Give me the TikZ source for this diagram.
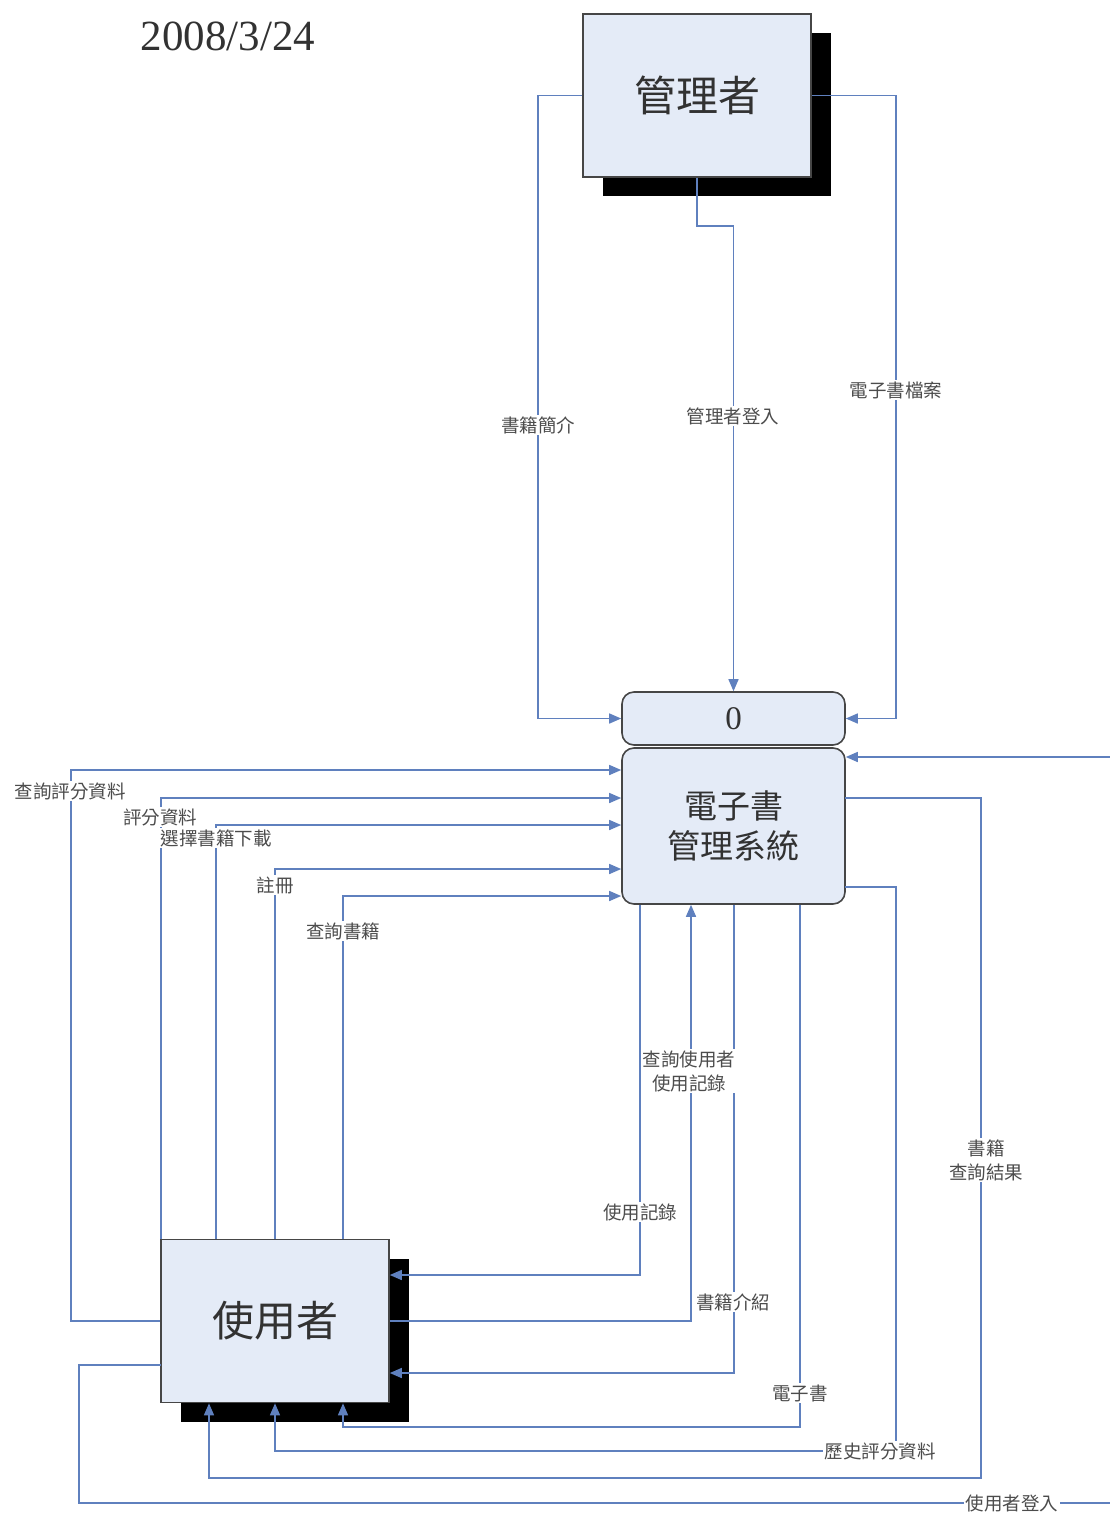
\documentclass[tikz,border=0pt]{standalone}
\usepackage{fontspec}
\setmainfont{Liberation Serif}
\newfontfamily\cjk{Noto Sans CJK TC}
\usetikzlibrary{arrows.meta,shadows}
\definecolor{flowc}{RGB}{95,128,190}
\definecolor{boxfill}{RGB}{228,235,247}
\definecolor{boxline}{RGB}{70,70,70}
\definecolor{txt}{RGB}{50,50,50}
\begin{document}
\begin{tikzpicture}[x=1pt,y=-1pt,
 entity/.style={draw=boxline, line width=1.6pt, fill=boxfill, minimum width=228pt, minimum height=163pt, inner sep=0pt, text=txt, font=\cjk\fontsize{42}{48}\selectfont, drop shadow={shadow xshift=20pt, shadow yshift=-19pt, fill=black, opacity=1}},
 proc/.style={draw=boxline, line width=1.6pt, fill=boxfill, rounded corners=12pt, minimum width=223pt, inner sep=0pt, text=txt, align=center},
 flow/.style={draw=flowc, line width=1.5pt, -{Triangle[length=12pt,width=10pt]}},
 lbl/.style={fill=white, inner sep=1.5pt, font=\cjk\fontsize{18.5}{24}\selectfont, align=center, text=black!70},
]
\useasboundingbox (0,0) rectangle (1109,1513);
\fill[white] (0,0) rectangle (1109,1513);

\node[font=\fontsize{43}{48}\selectfont, text=txt] (date) at (228,36) {2008/3/24};

% entities and process
\node[entity] (mgr) at (697,95.5) {管理者};
\node[entity] (usr) at (275,1321) {使用者};
\node[proc, minimum height=53pt, font=\fontsize{33}{38}\selectfont] (p0) at (733.5,718.5) {0};
\node[proc, minimum height=156pt, font=\cjk\fontsize{33}{40}\selectfont] (p1) at (733.5,826) {電子書\\管理系統};

% lane coordinates
\coordinate (m1) at (538,95.5);
\coordinate (m2) at (538,718.5);
\coordinate (m3) at (697,226);
\coordinate (m4) at (733.5,226);
\coordinate (m5) at (896,95.5);
\coordinate (m6) at (896,718.5);

\coordinate (cA) at (71,770);
\coordinate (cA0) at (71,1321);
\coordinate (cB) at (161,798);
\coordinate (cC) at (216,825);
\coordinate (cD) at (275,869);
\coordinate (cE) at (343,896);
\coordinate (cF) at (640,1275);
\coordinate (cG) at (691,1321);
\coordinate (cH) at (734,1373);
\coordinate (cI) at (800,1427);
\coordinate (cI2) at (343,1427);
\coordinate (cJ0) at (845,887);
\coordinate (cJ) at (896,887);
\coordinate (cJ2) at (896,1451);
\coordinate (cJ3) at (275,1451);
\coordinate (cK0) at (845,798);
\coordinate (cK) at (981,798);
\coordinate (cK2) at (981,1478);
\coordinate (cK3) at (209,1478);
\coordinate (cL0) at (161,1365);
\coordinate (cL) at (79,1365);
\coordinate (cL2) at (79,1503);
\coordinate (cL3) at (1130,1503);
\coordinate (cL4) at (1130,757);

% connectors from administrator
\draw[flow] (mgr.west) -- (m1) -- (m2) -- (p0.west);
\draw[flow] (mgr.south) -- (m3) -- (m4) -- (p0.north);
\draw[flow] (mgr.east) -- (m5) -- (m6) -- (p0.east);

% user -> system (left side)
\draw[flow] (usr.west) -- (cA0) -- (cA) -- (cA -| p1.west);
\draw[flow] (cB |- usr.north) -- (cB) -- (cB -| p1.west);
\draw[flow] (cC |- usr.north) -- (cC) -- (cC -| p1.west);
\draw[flow] (usr.north) -- (cD) -- (cD -| p1.west);
\draw[flow] (cE |- usr.north) -- (cE) -- (cE -| p1.west);

% system <-> user (bottom)
\draw[flow] (cF |- p1.south) -- (cF) -- (cF -| usr.east);
\draw[flow] (usr.east) -- (cG) -- (cG |- p1.south);
\draw[flow] (cH |- p1.south) -- (cH) -- (cH -| usr.east);
\draw[flow] (cI |- p1.south) -- (cI) -- (cI2) -- (cI2 |- usr.south);
\draw[flow] (cJ0) -- (cJ) -- (cJ2) -- (cJ3) -- (cJ3 |- usr.south);
\draw[flow] (cK0) -- (cK) -- (cK2) -- (cK3) -- (cK3 |- usr.south);
\draw[flow] (cL0) -- (cL) -- (cL2) -- (cL3) -- (cL4) -- (cL4 -| p1.east);

% labels
\node[lbl] (l1) at (538,425) {書籍簡介};
\node[lbl] (l2) at (733,416) {管理者登入};
\node[lbl] (l3) at (896,390) {電子書檔案};
\node[lbl] (l4) at (70,791) {查詢評分資料};
\node[lbl] (l5) at (160,817) {評分資料};
\node[lbl] (l6) at (216,838) {選擇書籍下載};
\node[lbl] (l7) at (275,885) {註冊};
\node[lbl] (l8) at (343,931) {查詢書籍};
\node[lbl] (l9) at (689,1071) {查詢使用者\\使用記錄};
\node[lbl] (l10) at (640,1212) {使用記錄};
\node[lbl] (l11) at (733,1302) {書籍介紹};
\node[lbl] (l12) at (800,1393) {電子書};
\node[lbl] (l13) at (880,1451) {歷史評分資料};
\node[lbl] (l14) at (986,1160) {書籍\\查詢結果};
\node[lbl] (l15) at (1012,1503) {使用者登入};
\end{tikzpicture}
\end{document}
